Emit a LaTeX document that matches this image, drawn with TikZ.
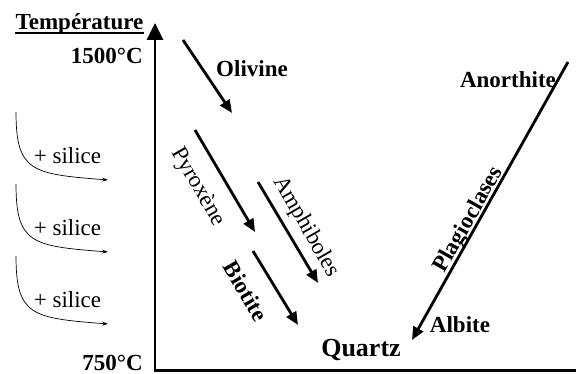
\documentclass[tikz,border=0pt]{standalone}
\usepackage{fontspec}
\setmainfont{Liberation Serif}
\usetikzlibrary{arrows.meta}
\begin{document}
\begin{tikzpicture}[x=1pt,y=-1pt,
  lbl/.style={inner sep=0pt,font=\fontsize{23}{27}\selectfont},
  blbl/.style={lbl,font=\fontsize{23}{27}\selectfont\bfseries},
  thick arrow/.style={line width=2.8pt,-{Triangle[length=13pt,width=11pt]}},
  axis/.style={line width=2.8pt},
  silarrow/.style={line width=0.7pt,-{Stealth[length=6pt,width=4pt]}}]
\useasboundingbox (0,0) rectangle (576,374);
% axes
\coordinate (origin) at (155,370.5);
\coordinate (ytop) at (155,23);
\coordinate (xend) at (577,370.5);
\draw[axis] (xend) -- (origin) -- (155,39);
\draw[line width=2.8pt,-{Triangle[length=17pt,width=16pt]}] (origin) -- (ytop);
% title and temperatures
\node[blbl,anchor=base] (temp) at (79.5,30) {Température};
\draw[line width=1.6pt] (temp.base west) ++(0,3) coordinate (ul1) -- (temp.base east |- ul1);
\node[blbl,anchor=east] (t1500) at (143,56) {1500°C};
\node[blbl,anchor=east] (t750) at (143,363) {750°C};
% minerals
\node[blbl] (olivine) at (252,69) {Olivine};
\node[lbl,rotate=-60] (pyroxene) at (198,187) {Pyroxène};
\node[lbl,rotate=-60] (amphiboles) at (306,227) {Amphiboles};
\node[blbl,rotate=-60] (biotite) at (246,291) {Biotite};
\node[blbl,font=\fontsize{26}{30}\selectfont\bfseries] (quartz) at (361,350) {Quartz};
\node[blbl] (anorthite) at (508,80) {Anorthite};
\node[blbl] (albite) at (460,325) {Albite};
\node[blbl,rotate=60.7] (plagio) at (469,220) {Plagioclases};
% arrows
\coordinate (o1) at (183,40); \coordinate (o2) at (232,113);
\coordinate (p1) at (195,130); \coordinate (p2) at (255,232);
\coordinate (a1) at (258,182); \coordinate (a2) at (318,283);
\coordinate (b1) at (253,251); \coordinate (b2) at (298,325);
\coordinate (pl1) at (568,62); \coordinate (pl2) at (412,340);
\draw[thick arrow] (o1) -- (o2);
\draw[thick arrow] (p1) -- (p2);
\draw[thick arrow] (a1) -- (a2);
\draw[thick arrow] (b1) -- (b2);
\draw[thick arrow] (pl1) -- (pl2);
% silice
\foreach \d/\n in {0/s1,72/s2,144/s3}{
  \coordinate (\n a) at (16,112+\d);
  \coordinate (\n b) at (108,180+\d);
  \draw[silarrow] (\n a) .. controls (16,172+\d) and (32,174+\d) .. (\n b);
  \node[lbl] (\n t) at (67.5,156+\d) {+ silice};
}
\end{tikzpicture}
\end{document}
